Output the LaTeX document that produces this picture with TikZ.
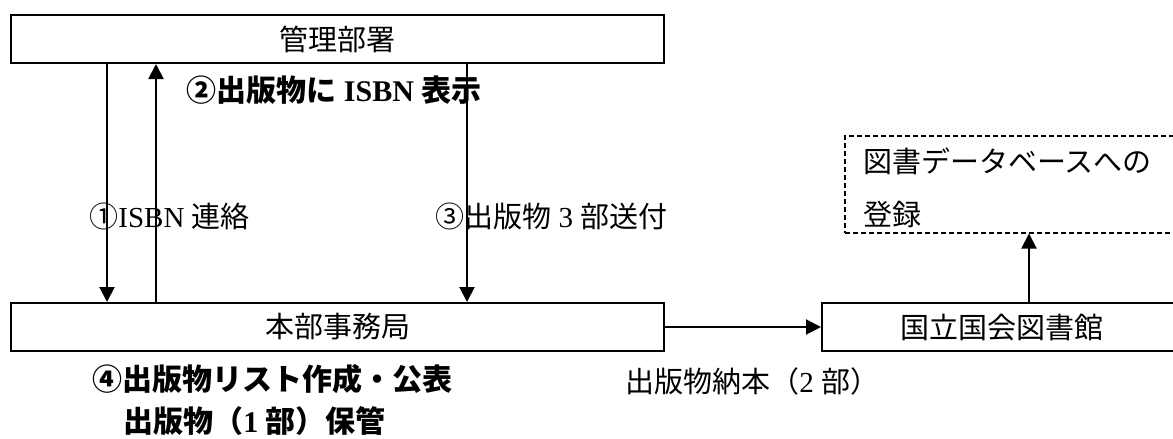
\documentclass[tikz,border=0pt]{standalone}
\usepackage{fontspec}
\setmainfont{Liberation Serif}
\newfontfamily\jp{Noto Sans CJK JP}
\usetikzlibrary{arrows.meta}
\newcommand\J[1]{{\jp #1}}
\begin{document}
\begin{tikzpicture}[x=0.5pt,y=-0.5pt,
  box/.style={draw, line width=1pt, inner sep=0pt, font=\jp\fontsize{14.5pt}{17pt}\selectfont},
  dbox/.style={draw, line width=1pt, dash pattern=on 2.5pt off 1.5pt, inner sep=0pt},
  lbl/.style={inner sep=0pt, anchor=west, font=\fontsize{14.5pt}{17pt}\selectfont},
  blbl/.style={inner sep=0pt, font=\bfseries\fontsize{15pt}{18pt}\selectfont},
  arr/.style={line width=1pt, -{Triangle[width=7.5pt,length=7.5pt]}}]
\useasboundingbox (0,0) rectangle (1173,439);
\clip (0,0) rectangle (1173,439);
% boxes
\node[box, minimum width=326.5pt, minimum height=24pt] (top) at (337.5,39) {管理部署};
\node[box, minimum width=326.5pt, minimum height=24pt] (bot) at (337.5,327) {本部事務局};
\node[box, minimum width=180pt, minimum height=24pt] (ndl) at (1002,327) {国立国会図書館};
\node[dbox, minimum width=180pt, minimum height=48.5pt] (db) at (1025,184) {};
% texts
\node[blbl] (l2) at (334,90) {\J{②出版物に} ISBN \J{表示}};
\node[lbl] (l1) at (89,216) {\J{①}ISBN \J{連絡}};
\node[lbl] (l3) at (435,216) {\J{③出版物} 3 \J{部送付}};
\node[blbl, anchor=west] (l4) at (92,379) {\J{④出版物リスト作成・公表}};
\node[blbl, anchor=west] (l5) at (123,421) {\J{出版物（}1 \J{部）保管}};
\node[lbl] (l6) at (625,381) {\J{出版物納本（}2 \J{部）}};
\node[lbl] (d1) at (863,161) {\J{図書データベースへの}};
\node[lbl] (d2) at (863,214) {\J{登録}};
% connectors
\draw[arr] ([xshift=48.5pt]top.south west) -- ([xshift=48.5pt]bot.north west);
\draw[arr] ([xshift=73pt]bot.north west) -- ([xshift=73pt]top.south west);
\draw[arr] ([xshift=228.5pt]top.south west) -- ([xshift=228.5pt]bot.north west);
\draw[arr] (bot.east) -- (ndl.west);
\draw[arr] ([xshift=104pt]ndl.north west) -- ([xshift=104pt]ndl.north west |- db.south);
\end{tikzpicture}
\end{document}
